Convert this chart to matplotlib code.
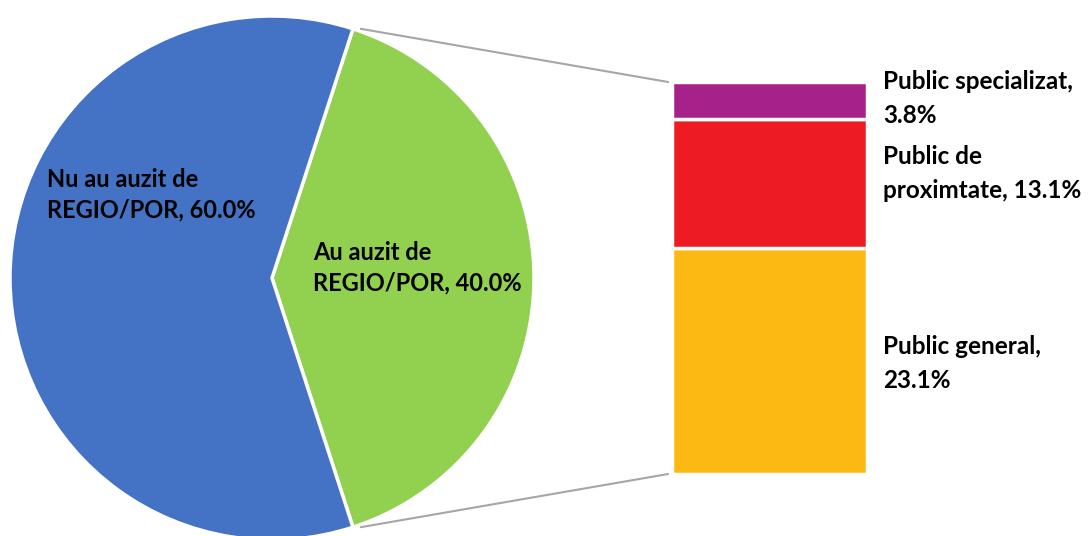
import matplotlib
matplotlib.use("Agg")
import matplotlib.pyplot as plt
from matplotlib.patches import ConnectionPatch
import numpy as np

# Data
pie_labels = ["Au auzit de\nREGIO/POR", "Nu au auzit de\nREGIO/POR"]
pie_values = [40.0, 60.0]
pie_colors = ["#92D050", "#4472C4"]

bar_labels = ["Public general", "Public de\nproximtate", "Public specializat"]
bar_values = [23.1, 13.1, 3.8]
bar_colors = ["#FDB913", "#ED1C24", "#A6218A"]

W, H = 1091, 536
fig = plt.figure(figsize=(W / 100, H / 100), dpi=100)
plt.rcParams['font.family'] = ['Lato', 'DejaVu Sans']

def px(x, y):
    return x / W, 1 - y / H

# Pie axes (pixel box: center 272,278, radius 262)
cx, cy, r = 272, 278, 262
ax_pie = fig.add_axes([(cx - r) / W, (H - cy - r) / H, 2 * r / W, 2 * r / H])
half = pie_values[0] / 100 * 360 / 2
wedges, _ = ax_pie.pie(pie_values, colors=pie_colors, startangle=-half,
                       counterclock=True, radius=1,
                       wedgeprops=dict(edgecolor="white", linewidth=2.5))
ax_pie.set_xlim(-1, 1)
ax_pie.set_ylim(-1, 1)
ax_pie.set_aspect("auto")
ax_pie.axis("off")
for w in wedges:
    w.set_clip_on(False)

# Bar axes (pixel box x 672..867, y 82..474)
bx0, bx1, by0, by1 = 672, 867, 82, 474
ax_bar = fig.add_axes([bx0 / W, (H - by1) / H, (bx1 - bx0) / W, (by1 - by0) / H])
bottom = 0
for v, c in zip(bar_values, bar_colors):
    ax_bar.bar(0, v, bottom=bottom, width=1, color=c, edgecolor="white", linewidth=2.5)
    bottom += v
ax_bar.set_xlim(-0.5, 0.5)
ax_bar.set_ylim(0, sum(bar_values))
ax_bar.axis("off")

# Connector lines
ang = np.deg2rad(half)
for sgn, yb in [(1, sum(bar_values)), (-1, 0)]:
    xa, ya = np.cos(ang) * 1.0 + 0.03, sgn * np.sin(ang) * 1.0
    con = ConnectionPatch(xyA=(xa, ya), coordsA=ax_pie.transData,
                          xyB=(-0.52, yb), coordsB=ax_bar.transData,
                          color="#A6A6A6", linewidth=1.5)
    fig.add_artist(con)

tk = dict(fontsize=17, fontweight="bold", color="black", ha="left", va="top", linespacing=1.4)
tb = dict(fontsize=17.5, fontweight="bold", color="black", ha="left", va="top", linespacing=1.6)
# Pie labels
fig.text(*px(47, 168), f"{pie_labels[1]}, {pie_values[1]:.1f}%", **tk)
fig.text(*px(313, 241), f"{pie_labels[0]}, {pie_values[0]:.1f}%", **tk)
# Bar labels
fig.text(*px(883, 70), f"{bar_labels[2]},\n{bar_values[2]:.1f}%", **tb)
fig.text(*px(883, 145), f"{bar_labels[1]}, {bar_values[1]:.1f}%", **tb)
fig.text(*px(883, 335), f"{bar_labels[0]},\n{bar_values[0]:.1f}%", **tb)

fig.savefig("out.png", dpi=100)
